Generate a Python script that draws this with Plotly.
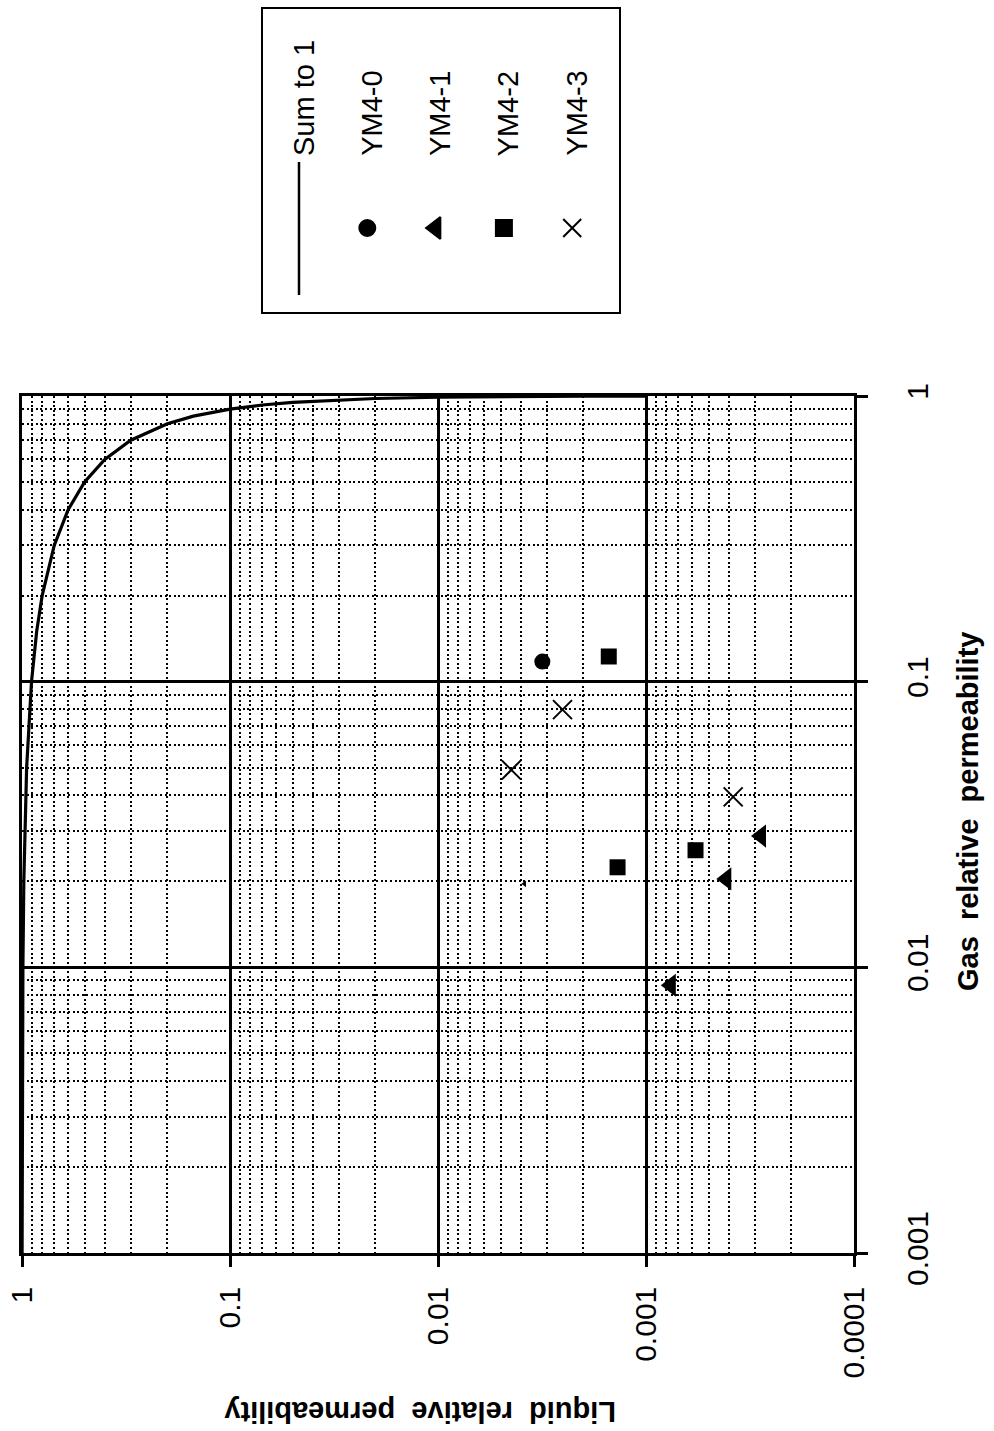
import plotly.graph_objects as go

W, H = 994, 1431

# ---------------- data ----------------
# "Sum to 1" reference curve (gas + liquid = 1)
sum_gas = [0.001, 0.005, 0.01, 0.02, 0.05, 0.1, 0.15, 0.2, 0.3, 0.4, 0.5, 0.6, 0.7,
           0.8, 0.85, 0.9, 0.93, 0.95, 0.97, 0.98, 0.99, 0.995, 0.998, 0.999]
sum_liquid = [0.999, 0.995, 0.99, 0.98, 0.95, 0.9, 0.85, 0.8, 0.7, 0.6, 0.5, 0.4, 0.3,
              0.2, 0.15, 0.1, 0.07, 0.05, 0.03, 0.02, 0.01, 0.005, 0.002, 0.001]

ym40_gas = [0.1176]
ym40_liquid = [0.00315]

ym41_gas = [0.0288, 0.0204, 0.00866]
ym41_liquid = [0.000280, 0.000411, 0.000760]

ym42_gas = [0.1225, 0.0257, 0.0224]
ym42_liquid = [0.00151, 0.000578, 0.00137]

ym43_gas = [0.0798, 0.0491, 0.0395]
ym43_liquid = [0.00252, 0.00444, 0.000381]

stray_gas = [0.0196]
stray_liquid = [0.00384]

x_tick_vals = [1, 0.1, 0.01, 0.001, 0.0001]
x_tick_text = ["1", "0.1", "0.01", "0.001", "0.0001"]
y_tick_vals = [1, 0.1, 0.01, 0.001]
y_tick_text = ["1", "0.1", "0.01", "0.001"]

legend_names = ["Sum to 1", "YM4-0", "YM4-1", "YM4-2", "YM4-3"]
legend_symbols = ["line", "circle", "triangle-left", "square", "x-thin-open"]
legend_sizes = [0, 16, 19, 16, 18]

FONT = "Liberation Sans, Arial, Helvetica, sans-serif"


def px(x):
    return x / W


def py(y):
    return 1 - y / H


minor_vals = [m * 10 ** e for e in range(-4, 0) for m in range(2, 10)]

fig = go.Figure()

fig.add_trace(go.Scatter(x=sum_liquid, y=sum_gas, mode="lines",
                         line=dict(color="black", width=3.2), name="Sum to 1",
                         showlegend=False))
fig.add_trace(go.Scatter(x=ym40_liquid, y=ym40_gas, mode="markers", name="YM4-0",
                         marker=dict(symbol="circle", size=16, color="black"),
                         showlegend=False))
fig.add_trace(go.Scatter(x=ym41_liquid, y=ym41_gas, mode="markers", name="YM4-1",
                         marker=dict(symbol="triangle-left", size=20, color="black"),
                         showlegend=False))
fig.add_trace(go.Scatter(x=ym42_liquid, y=ym42_gas, mode="markers", name="YM4-2",
                         marker=dict(symbol="square", size=16, color="black"),
                         showlegend=False))
fig.add_trace(go.Scatter(x=ym43_liquid, y=ym43_gas, mode="markers", name="YM4-3",
                         marker=dict(symbol="x-thin-open", size=19, color="black",
                                     line=dict(color="black", width=2)),
                         showlegend=False))
fig.add_trace(go.Scatter(x=stray_liquid, y=stray_gas, mode="markers", name="",
                         marker=dict(symbol="triangle-left", size=6, color="black"),
                         showlegend=False, hoverinfo="skip"))

# ---------------- custom rotated legend ----------------
LEG_X0, LEG_X1, LEG_Y0, LEG_Y1 = 262, 620, 8, 313
col_x = [299 + 68.3 * i for i in range(len(legend_names))]
sym_y = 228

for i in range(1, len(legend_names)):
    fig.add_trace(go.Scatter(
        x=[col_x[i]], y=[sym_y], xaxis="x2", yaxis="y2",
        mode="markers", showlegend=False, hoverinfo="skip",
        marker=dict(symbol=legend_symbols[i], size=legend_sizes[i], color="black",
                    opacity=1, line=dict(color="black", width=2))))
fig.add_trace(go.Scatter(
    x=[col_x[0], col_x[0]], y=[162, 295], xaxis="x2", yaxis="y2", mode="lines",
    line=dict(color="black", width=2.5), showlegend=False, hoverinfo="skip"))

annotations = []
for name, cx in zip(legend_names, col_x):
    annotations.append(dict(text=name, x=cx + 5, y=158, xref="x2", yref="y2",
                            xanchor="center", yanchor="bottom", textangle=-90,
                            showarrow=False,
                            font=dict(family=FONT, size=29, color="black")))

annotations.append(dict(text="<b>Gas  relative  permeability</b>", x=px(968), y=py(812),
                        xref="paper", yref="paper", xanchor="center", yanchor="middle",
                        textangle=-90, showarrow=False,
                        font=dict(family=FONT, size=29, color="black")))
annotations.append(dict(text="<b>Liquid  relative  permeability</b>", x=px(420), y=py(1412),
                        xref="paper", yref="paper", xanchor="center", yanchor="middle",
                        textangle=180, showarrow=False,
                        font=dict(family=FONT, size=29, color="black")))

shapes = [dict(type="rect", xref="paper", yref="paper",
               x0=px(LEG_X0), x1=px(LEG_X1), y0=py(LEG_Y1), y1=py(LEG_Y0),
               line=dict(color="black", width=2), fillcolor="rgba(0,0,0,0)")]

axis_common = dict(
    type="log", showline=True, linecolor="black", linewidth=2.5, mirror=True,
    ticks="outside", ticklen=11, tickwidth=2.5, tickcolor="black",
    showgrid=True, gridcolor="black", gridwidth=2.5, zeroline=False,
    tickangle=-90, tickfont=dict(family=FONT, size=30, color="black"),
    automargin=False,
    minor=dict(tickvals=minor_vals, showgrid=True, gridcolor="black",
               gridwidth=2, griddash="2px,2.6px", ticks=""),
)

fig.update_layout(
    width=W, height=H, autosize=False,
    margin=dict(l=0, r=0, t=0, b=0),
    paper_bgcolor="white", plot_bgcolor="white",
    showlegend=False,
    xaxis=dict(axis_common, domain=[px(22), px(854)], range=[0, -4], anchor="y",
               tickvals=x_tick_vals, ticktext=x_tick_text, ticklabelstandoff=8),
    yaxis=dict(axis_common, domain=[py(1253), py(396)], range=[-3, 0], anchor="x",
               side="right", tickvals=y_tick_vals, ticktext=y_tick_text,
               ticklabelstandoff=24),
    xaxis2=dict(domain=[px(LEG_X0), px(LEG_X1)], range=[LEG_X0, LEG_X1], visible=False,
                anchor="y2", fixedrange=True),
    yaxis2=dict(domain=[py(LEG_Y1), py(LEG_Y0)], range=[LEG_Y1, LEG_Y0], visible=False,
                anchor="x2", fixedrange=True),
    annotations=annotations,
    shapes=shapes,
)

fig.write_html("out.html")
